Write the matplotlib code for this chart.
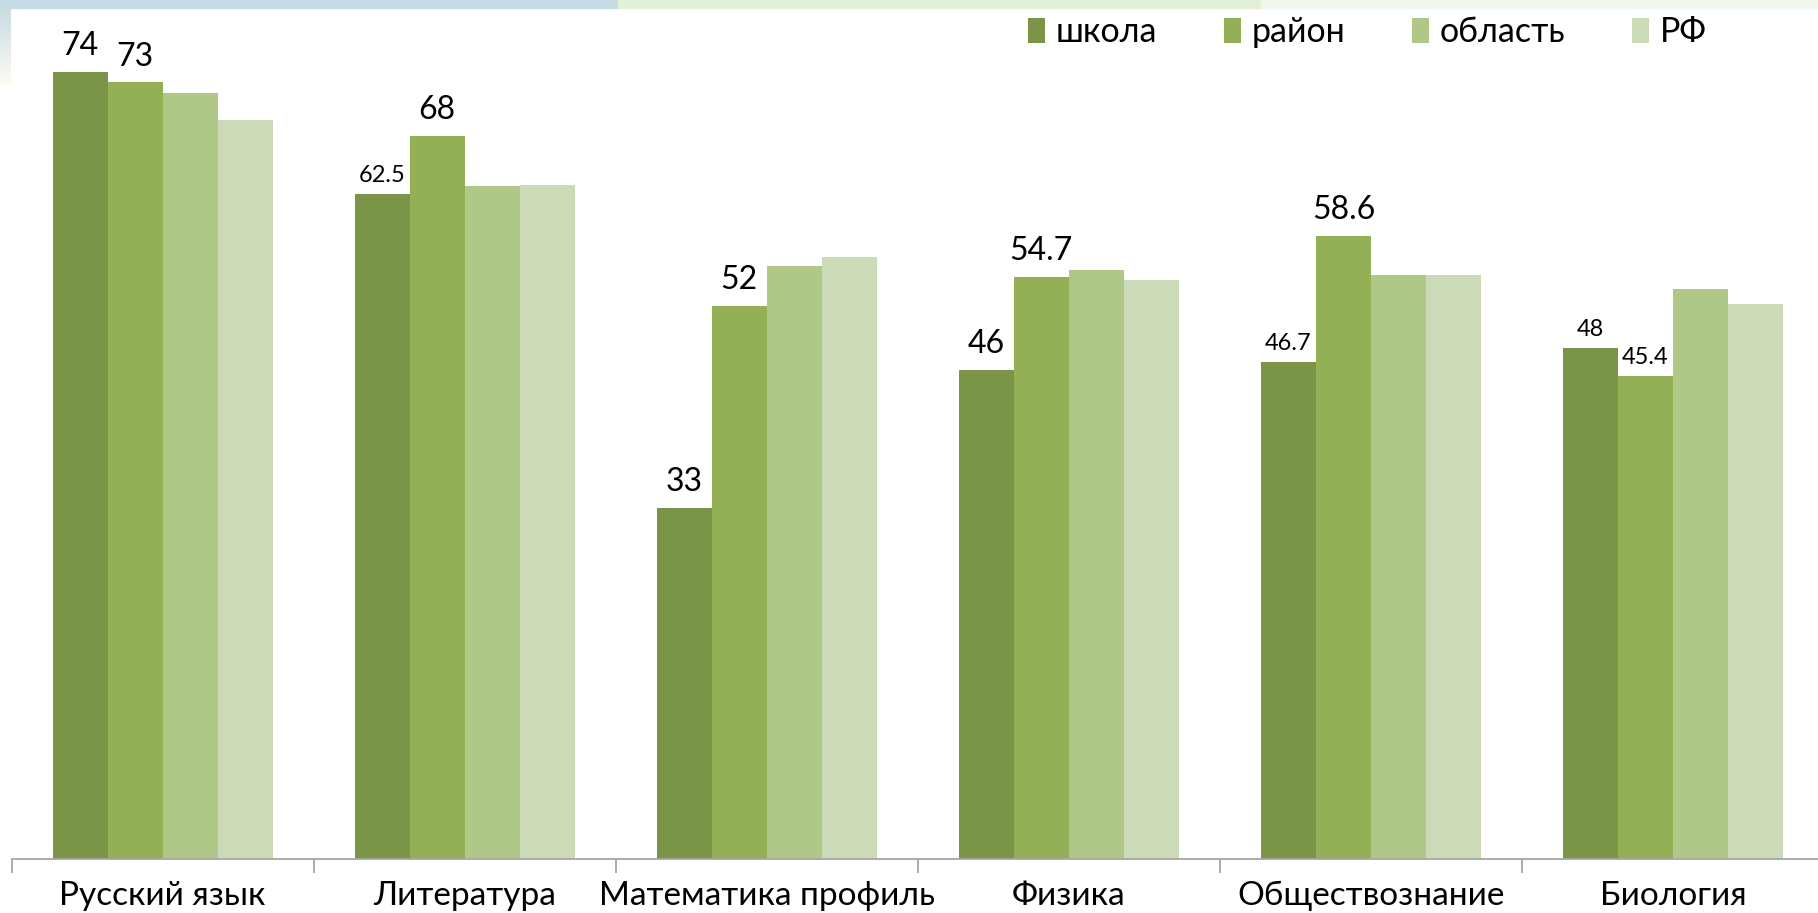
import matplotlib
matplotlib.use("Agg")
import matplotlib.pyplot as plt
import numpy as np
from matplotlib.patches import Rectangle

categories = ["Русский язык", "Литература", "Математика профиль", "Физика", "Обществознание", "Биология"]
series_names = ["школа", "район", "область", "РФ"]
school = [74, 62.5, 33, 46, 46.7, 48]
district = [73, 68, 52, 54.7, 58.6, 45.4]
region = [72.0, 63.3, 55.7, 55.4, 54.9, 53.6]
russia = [69.5, 63.4, 56.6, 54.4, 54.9, 52.2]
# labels drawn in the small font: (series index, category index)
small_labels = {(0, 1), (0, 4), (0, 5), (1, 5)}

colors = ["#7b9548", "#93b056", "#afc787", "#cddab8"]
plt.rcParams['font.family'] = ['Lato', 'DejaVu Sans']

W, H = 1818, 913
fig = plt.figure(figsize=(W / 100, H / 100), dpi=100)

# decorative strips
fig.patches.append(Rectangle((0, 1 - 8 / H), 618 / W, 8 / H, transform=fig.transFigure, color="#c6dce4", zorder=0))
fig.patches.append(Rectangle((618 / W, 1 - 8 / H), (1261 - 618) / W, 8 / H, transform=fig.transFigure, color="#e2f0d6", zorder=0))
fig.patches.append(Rectangle((1261 / W, 1 - 8 / H), (W - 1261) / W, 8 / H, transform=fig.transFigure, color="#f2f7ee", zorder=0))
gax = fig.add_axes([0, 1 - 85 / H, 11 / W, 77 / H])
grad = np.linspace(0, 1, 100).reshape(-1, 1)
c1 = np.array([0.78, 0.86, 0.89])
c2 = np.array([0.99, 0.99, 0.95])
img = (c1[None, None, :] * (1 - grad[..., None]) + c2[None, None, :] * grad[..., None])
gax.imshow(img, aspect='auto', extent=[0, 1, 0, 1], origin='upper')
gax.axis('off')

ax = fig.add_axes([11.6 / W, 1 - 859 / H, (1824 - 11.6) / W, 851 / H])
ax.set_zorder(2)
ax.patch.set_alpha(0)

n = len(categories)
x = np.arange(n)
w = 0.182
all_series = [school, district, region, russia]
for si, (vals, col, name) in enumerate(zip(all_series, colors, series_names)):
    pos = x + (si - 1.5) * w
    bars = ax.bar(pos, vals, width=w, color=col, label=name, linewidth=0)
    if si < 2:
        for ci, (px, v) in enumerate(zip(pos, vals)):
            small = (si, ci) in small_labels
            ax.annotate(f"{v:g}", (px, v), xytext=(0, 8.6 if small else 12.2),
                        textcoords="offset points", ha="center", va="baseline",
                        fontsize=17 if small else 23, color="#000000")

ax.set_xlim(-0.5, n - 0.5)
ax.set_ylim(0, 80)
for s in ["top", "right", "left"]:
    ax.spines[s].set_visible(False)
ax.spines["bottom"].set_color("#a6a6a6")
ax.spines["bottom"].set_linewidth(1.3)
ax.set_yticks([])
ax.set_xticks(x)
ax.set_xticklabels(categories, fontsize=24)
ax.tick_params(axis="x", which="major", length=0, pad=16)
ax.set_xticks(np.arange(n + 1) - 0.5, minor=True)
ax.tick_params(axis="x", which="minor", length=10, width=1.3, color="#a6a6a6", direction="out")

handles = [Rectangle((0, 0), 1, 1, color=c, linewidth=0) for c in colors]
fig.legend(handles, series_names, loc="center left", bbox_to_anchor=(1028 / W, 1 - 32 / H),
           ncol=4, frameon=False, fontsize=24.5, handlelength=0.5, handleheight=0.75,
           handletextpad=0.32, columnspacing=1.95, borderpad=0, borderaxespad=0)

fig.savefig("out.png", dpi=100)
